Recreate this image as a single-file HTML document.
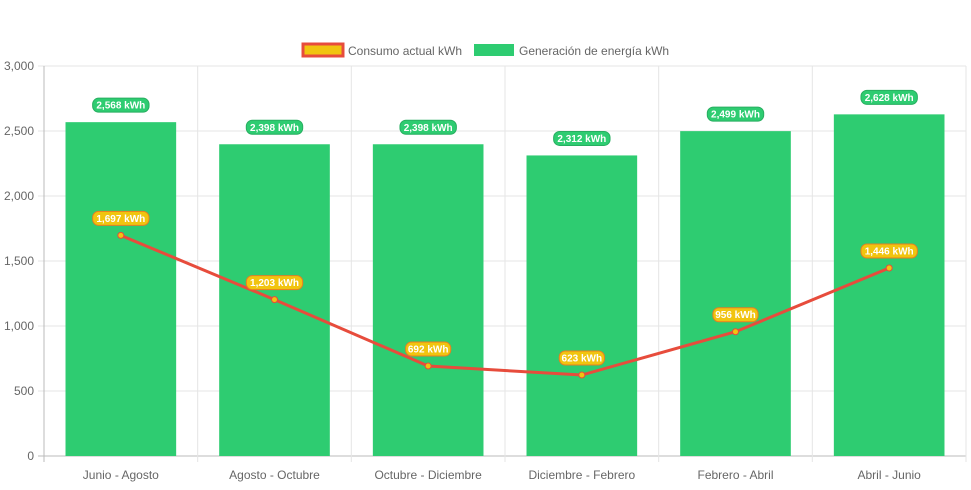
<!DOCTYPE html>
<html><head><meta charset="utf-8"><style>
body{margin:0;background:#fff;font-family:"Liberation Sans",sans-serif}
svg text{font-family:"Liberation Sans",sans-serif}
</style></head><body>
<svg id="c" width="971" height="485">
<g>
<g>
<rect x="303" y="44" width="40" height="12" fill="#f1c40f" stroke="#e74c3c" stroke-width="3"/>
<text x="348" y="55" font-size="12" fill="#666">Consumo actual kWh</text></g>
<g>
<rect x="474" y="44" width="40" height="12" fill="#2ecc71"/>
<text x="519" y="55" font-size="12" fill="#666">Generación de energía kWh</text></g>
</g>
<g id="grid"></g>
<g id="bars"></g>
<g id="line"></g>
<g id="labels"></g>
</svg>
<script>
const categories=["Junio - Agosto","Agosto - Octubre","Octubre - Diciembre","Diciembre - Febrero","Febrero - Abril","Abril - Junio"];
const generation=[2568,2398,2398,2312,2499,2628];
const consumption=[1697,1203,692,623,956,1446];
const yTicks=[0,500,1000,1500,2000,2500,3000];
const NS="http://www.w3.org/2000/svg";
const L=44,R=966,T=66,B=456,yMax=3000;
const bw=(R-L)/categories.length;
const y=v=>B-(v/yMax)*(B-T);
const x=i=>L+bw*(i+0.5);
function mk(tag,attrs,parent,txt){const e=document.createElementNS(NS,tag);for(const k in attrs)e.setAttribute(k,attrs[k]);if(txt!=null)e.textContent=txt;parent.appendChild(e);return e;}
const grid=document.getElementById('grid');
yTicks.forEach(t=>{
 const l=mk('line',{x1:L-6,x2:R,y1:y(t),y2:y(t),stroke:t===0?'#bbb':'#e5e5e5'},grid);
 
 
 const tx=mk('text',{x:L-10,y:y(t)+4,'text-anchor':'end','font-size':12,fill:'#666'},grid,t.toLocaleString('en-US'));
 
 
});
for(let i=0;i<=categories.length;i++){
 const l=mk('line',{x1:L+bw*i,x2:L+bw*i,y1:T,y2:B+6,stroke:i===0?'#bbb':'#e5e5e5'},grid);
 
 
}
categories.forEach((c,i)=>{
 const tx=mk('text',{x:x(i),y:479,'text-anchor':'middle','font-size':12,fill:'#666'},grid,c);
 
 
});
const bars=document.getElementById('bars');
const barW=bw*0.72;
generation.forEach((v,i)=>{
 const r=mk('rect',{x:x(i)-barW/2,y:y(v),width:barW,height:B-y(v),fill:'#2ecc71'},bars);
 
 
});
const line=document.getElementById('line');
const p=mk('polyline',{points:consumption.map((v,i)=>x(i)+','+y(v)).join(' '),fill:'none',stroke:'#e74c3c','stroke-width':3},line);


consumption.forEach((v,i)=>{
 const c=mk('circle',{cx:x(i),cy:y(v),r:3,fill:'#f1c40f',stroke:'#e74c3c','stroke-width':1},line);
 
 
});
const labels=document.getElementById('labels');
function pill(v,i,bg,bd){
 const g=mk('g',{},labels);
 
 
 const s=v.toLocaleString('en-US')+' kWh';
 const w=s.length*5.6+6,cy=y(v)-17;
 mk('rect',{x:x(i)-w/2,y:cy-7,width:w,height:14,rx:6,fill:bg,stroke:bd,'stroke-width':1},g);
 mk('text',{x:x(i),y:cy+3.5,'text-anchor':'middle','font-size':10,'font-weight':'bold',fill:'#fff'},g,s);
}
generation.forEach((v,i)=>pill(v,i,'#2ecc71','#27ae60'));
consumption.forEach((v,i)=>pill(v,i,'#f1c40f','#e67e22'));
</script>
</body></html>
